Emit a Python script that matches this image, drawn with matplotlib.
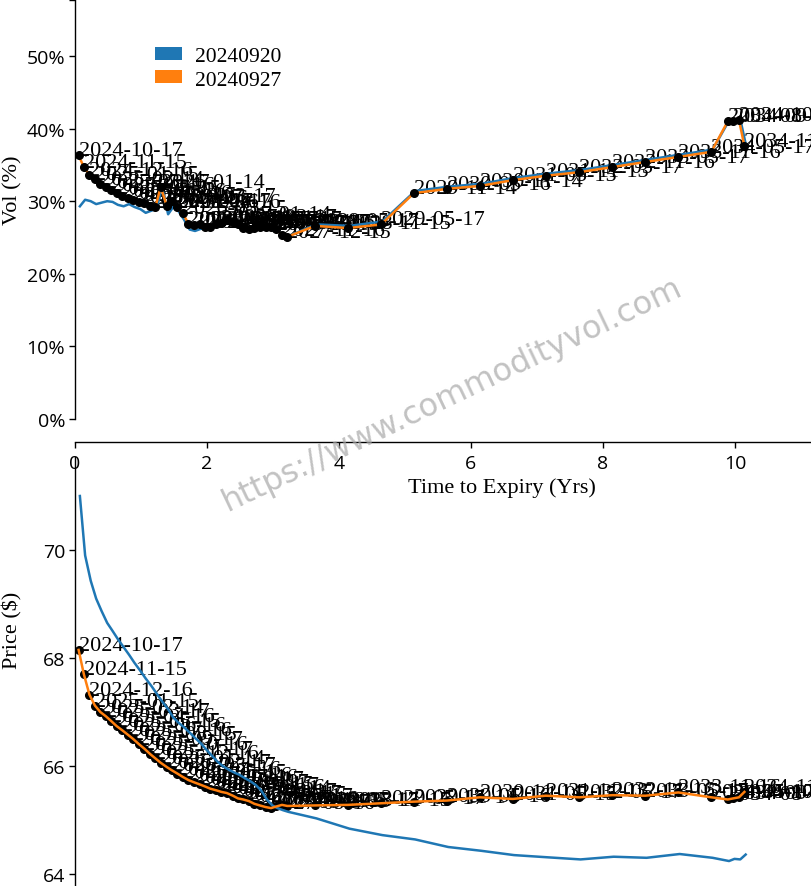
import datetime as dt
import matplotlib
matplotlib.use("Agg")
import matplotlib.pyplot as plt
from matplotlib.patches import Patch
from matplotlib.ticker import FuncFormatter

# ---------------- data ----------------
ref_dates = ["20240920", "20240927"]

expiries = [
    "2024-10-17", "2024-11-15", "2024-12-16", "2025-01-15", "2025-02-14", "2025-03-17",
    "2025-04-16", "2025-05-15", "2025-06-16", "2025-07-16", "2025-08-15", "2025-09-17",
    "2025-10-16", "2025-11-17", "2025-12-16", "2026-01-14", "2026-02-17", "2026-03-17",
    "2026-04-16", "2026-05-15", "2026-06-16", "2026-07-16", "2026-08-17", "2026-09-17",
    "2026-10-15", "2026-11-17", "2026-12-16", "2027-01-14", "2027-02-17", "2027-03-17",
    "2027-04-15", "2027-05-17", "2027-06-16", "2027-07-16", "2027-08-17", "2027-09-16",
    "2027-10-15", "2027-11-16", "2027-12-15",
    "2028-05-17", "2028-11-15", "2029-05-17", "2029-11-14", "2030-05-16", "2030-11-14",
    "2031-05-15", "2031-11-13", "2032-05-17", "2032-11-16", "2033-05-17", "2033-11-16",
    "2034-05-17", "2034-08-16", "2034-09-15", "2034-10-17", "2034-11-16",
]

vol_0927 = [
    36.3, 34.7, 33.6, 33.0, 32.4, 31.9, 31.5, 31.1, 30.7, 30.4, 30.1, 29.9,
    29.7, 29.4, 29.2, 32.0, 29.3, 30.0, 29.2, 28.4, 26.9, 26.7, 26.9, 26.5,
    26.4, 26.8, 27.0, 27.5, 27.2, 26.9, 26.3, 26.2, 26.3, 26.4, 26.5, 26.4,
    26.2, 25.3, 25.1,
    26.6, 26.3, 26.8, 31.1, 31.7, 32.1, 32.9, 33.5, 34.0, 34.7, 35.4, 36.1,
    36.8, 41.0, 41.1, 41.2, 37.6,
]
vol_0920 = [
    29.3, 30.2, 30.0, 29.6, 29.8, 30.0, 29.9, 29.5, 29.3, 29.6, 29.2, 28.9,
    28.4, 28.7, 29.0, 32.0, 28.2, 29.2, 28.6, 27.5, 26.1, 25.9, 26.2, 26.3,
    26.3, 26.6, 26.9, 27.3, 27.0, 26.7, 26.2, 26.1, 26.2, 26.3, 26.4, 26.3,
    26.1, 25.3, 25.2,
    26.8, 26.6, 27.2, 31.4, 32.0, 32.4, 33.2, 33.8, 34.3, 35.0, 35.7, 36.4,
    37.1, 41.1, 41.2, 41.3, 37.9,
]
px_0927 = [
    68.15, 67.70, 67.32, 67.12, 67.00, 66.92, 66.83, 66.74, 66.66, 66.58, 66.50, 66.40,
    66.32, 66.22, 66.14, 66.06, 65.98, 65.92, 65.86, 65.80, 65.74, 65.70, 65.66, 65.62,
    65.58, 65.55, 65.52, 65.50, 65.45, 65.40, 65.38, 65.35, 65.30, 65.27, 65.24, 65.22,
    65.25, 65.28, 65.26,
    65.27, 65.28, 65.31, 65.34, 65.36, 65.42, 65.39, 65.45, 65.42, 65.46, 65.45, 65.51,
    65.42, 65.38, 65.40, 65.42, 65.52,
]
px_0920 = [
    71.00, 69.90, 69.43, 69.10, 68.87, 68.65, 68.50, 68.35, 68.20, 68.06, 67.91, 67.76,
    67.62, 67.48, 67.34, 67.20, 67.05, 66.90, 66.80, 66.72, 66.62, 66.52, 66.42, 66.30,
    66.20, 66.08, 66.00, 65.94, 65.88, 65.84, 65.78, 65.72, 65.65, 65.55, 65.38, 65.27,
    65.22, 65.18, 65.15,
    65.03, 64.84, 64.72, 64.64, 64.50, 64.43, 64.35, 64.31, 64.27, 64.32, 64.30, 64.37,
    64.30, 64.24, 64.28, 64.27, 64.36,
]

vol_ticks = [0, 10, 20, 30, 40, 50]
px_ticks = [64, 66, 68, 70]
t_ticks = [0, 2, 4, 6, 8, 10]


def tte(exp, ref):
    d = dt.date.fromisoformat(exp)
    r = dt.datetime.strptime(ref, "%Y%m%d").date()
    return (d - r).days / 365.0


t_0920 = [tte(e, ref_dates[0]) for e in expiries]
t_0927 = [tte(e, ref_dates[1]) for e in expiries]

# ---------------- styling ----------------
W, H = 812, 887
BLUE = "#1f77b4"
ORANGE = "#ff7f0e"
SERIF = ["Liberation Serif", "DejaVu Serif"]
TICKFONT = ["Open Sans", "DejaVu Sans"]

fig = plt.figure(figsize=(W / 100, H / 100), dpi=100)

x0_px, px_per_yr = 75, 66.0
xmax = (W - x0_px) / px_per_yr

# top axes (vol)
vol_zero_px, px_per_pct = 420, 7.26
top_px, bot_px = 1, 443
ax1 = fig.add_axes([x0_px / W, (H - bot_px) / H, (W - x0_px) / W, (bot_px - top_px) / H])
ax1.set_xlim(0, xmax)
v_min = -(bot_px - vol_zero_px) / px_per_pct
v_max = (vol_zero_px - top_px) / px_per_pct
ax1.set_ylim(v_min, v_max)

# bottom axes (price)
p64_px, px_per_usd = 875, 54.0
ptop_px = 458
ax2 = fig.add_axes([x0_px / W, 0, (W - x0_px) / W, (H - ptop_px) / H])
ax2.set_xlim(0, xmax)
p_min = 64 - (H - p64_px) / px_per_usd
p_max = 64 + (p64_px - ptop_px) / px_per_usd
ax2.set_ylim(p_min, p_max)

for ax in (ax1, ax2):
    ax.set_facecolor("none")
    for s in ("top", "right"):
        ax.spines[s].set_visible(False)
    ax.spines["left"].set_linewidth(1.0)
    ax.spines["bottom"].set_linewidth(1.0)
    ax.tick_params(direction="out", length=4.5, width=1.0, pad=2.5, labelsize=14)

ax1.spines["left"].set_bounds(0, v_max)
ax1.set_yticks(vol_ticks)
ax1.yaxis.set_major_formatter(FuncFormatter(lambda v, p: f"{v:.0f}%"))
ax1.set_yticks([v_max], minor=True)
ax1.tick_params(axis="y", which="minor", length=4.5, width=1.0)
ax1.set_xticks(t_ticks)
ax1.tick_params(axis="x", pad=4)
for lab in ax1.get_xticklabels() + ax1.get_yticklabels():
    lab.set_family(TICKFONT)
    lab.set_fontsize(14)

ax2.spines["bottom"].set_visible(False)
ax2.spines["left"].set_bounds(p_min, p_max)
ax2.set_yticks(px_ticks)
ax2.set_xticks([])
for lab in ax2.get_yticklabels():
    lab.set_family(TICKFONT)
    lab.set_fontsize(14)

# top panel: lines, points, labels
ax1.plot(t_0920, vol_0920, color=BLUE, lw=1.8, zorder=4)
ax1.plot(t_0927, vol_0927, color=ORANGE, lw=1.8, zorder=4)
ax1.plot(t_0927, vol_0927, "o", color="black", ms=5.5, zorder=5)
for t, v, e in zip(t_0927, vol_0927, expiries):
    ax1.text(t, v, e, fontsize=16, family=SERIF, ha="left", va="baseline", zorder=3)

# bottom panel
ax2.plot(t_0920, px_0920, color=BLUE, lw=1.8, zorder=5)
ax2.plot(t_0927, px_0927, color=ORANGE, lw=1.8, zorder=5)
ax2.plot(t_0927, px_0927, "o", color="black", ms=5.5, zorder=4)
for t, v, e in zip(t_0927, px_0927, expiries):
    ax2.text(t, v, e, fontsize=16, family=SERIF, ha="left", va="baseline", zorder=3)

# axis labels
ax1.set_xlabel("Time to Expiry (Yrs)", fontsize=16, family=SERIF)
ax1.xaxis.set_label_coords((502 - x0_px) / (W - x0_px), (bot_px - 478) / (bot_px - top_px))
ax1.set_ylabel("Vol (%)", fontsize=16, family=SERIF)
ax1.yaxis.set_label_coords((22 - x0_px) / (W - x0_px), (bot_px - 190) / (bot_px - top_px))
ax2.set_ylabel("Price ($)", fontsize=16, family=SERIF)
ax2.yaxis.set_label_coords((22 - x0_px) / (W - x0_px), (H - 630) / (H - ptop_px))

# legend
handles = [Patch(facecolor=BLUE, edgecolor="none"), Patch(facecolor=ORANGE, edgecolor="none")]
leg = ax1.legend(handles, ref_dates, loc="upper left",
                 bbox_to_anchor=(155 / W, 1 - 48 / H), bbox_transform=fig.transFigure,
                 frameon=False, borderpad=0, borderaxespad=0,
                 handlelength=1.25, handleheight=0.55, handletextpad=0.6,
                 labelspacing=0.2, prop={"family": SERIF, "size": 15.5})

# watermark
fig.text(452 / W, 1 - 395 / H, "https://www.commodityvol.com", rotation=25.5,
         ha="center", va="center", fontsize=23, color="#a8a8a8", alpha=0.7,
         family=["DejaVu Sans"], zorder=10)

fig.savefig("out.png", dpi=100)
